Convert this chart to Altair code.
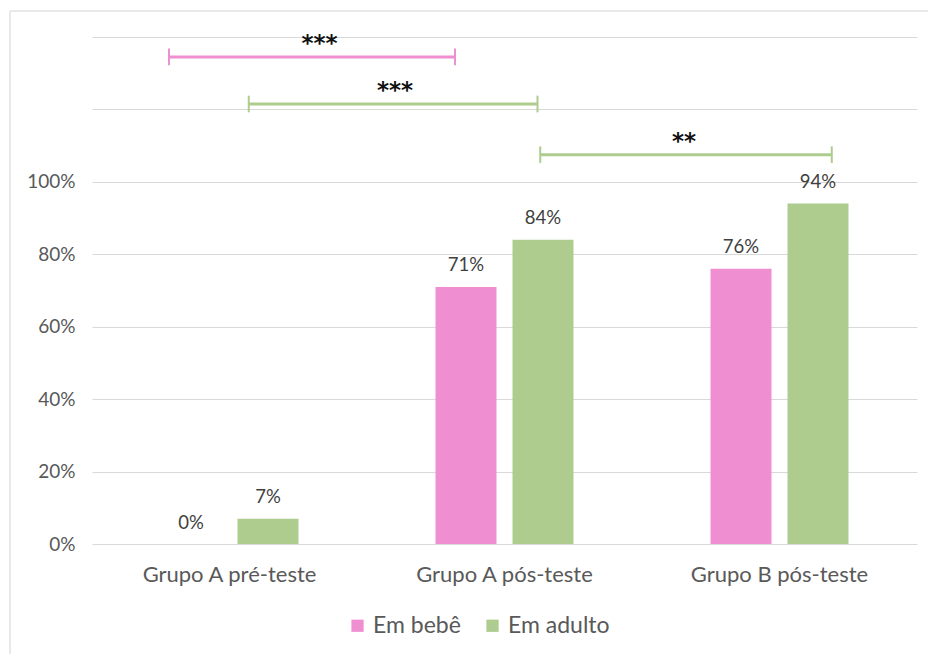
import altair as alt
import pandas as pd

# Groups, series and values (share of correct answers)
groups = ["Grupo A pré-teste", "Grupo A pós-teste", "Grupo B pós-teste"]
series = ["Em bebê", "Em adulto"]
em_bebe = [0.00, 0.71, 0.76]
em_adulto = [0.07, 0.84, 0.94]

# Significance brackets (x in group units: group i spans [i, i+1])
bracket_start = [0.28, 0.57, 1.63]
bracket_end = [1.32, 1.62, 2.69]
bracket_level = [1.345, 1.215, 1.075]
bracket_series = ["Em bebê", "Em adulto", "Em adulto"]
bracket_stars = ["***", "***", "**"]
stars_x = [0.827, 1.102, 2.153]

PINK = "#EF8FD1"
GREEN = "#ADCC8E"
FONT = "Lato"

rows = []
for g, b, a in zip(groups, em_bebe, em_adulto):
    rows.append({"grupo": g, "serie": series[0], "valor": b})
    rows.append({"grupo": g, "serie": series[1], "valor": a})
bars_df = pd.DataFrame(rows)

cap = 0.023
br = pd.DataFrame({
    "x0": bracket_start,
    "x1": bracket_end,
    "xm": stars_x,
    "y": bracket_level,
    "ylo": [v - cap for v in bracket_level],
    "yhi": [v + cap for v in bracket_level],
    "serie": bracket_series,
    "stars": bracket_stars,
})

W, H = 825, 507

y_scale = alt.Scale(domain=[0, 1.4], nice=False)
color_scale = alt.Scale(domain=series, range=[PINK, GREEN])

x_enc = alt.X(
    "grupo:N", sort=groups, title=None,
    scale=alt.Scale(paddingInner=0, paddingOuter=0),
    axis=alt.Axis(labelAngle=0, ticks=False, domain=False, labelPadding=20,
                  labelFontSize=22, labelColor="#595959", labelFont=FONT),
)
xoff_enc = alt.XOffset("serie:N", sort=series,
                       scale=alt.Scale(paddingInner=0.208, paddingOuter=0.89))

bars = alt.Chart(bars_df).mark_bar().encode(
    x=x_enc,
    xOffset=xoff_enc,
    y=alt.Y(
        "valor:Q", scale=y_scale, title=None,
        axis=alt.Axis(
            values=[0, 0.2, 0.4, 0.6, 0.8, 1.0, 1.2, 1.4], format="%",
            labelExpr="datum.value <= 1.0001 ? format(datum.value, '.0%') : ''",
            grid=True, gridColor="#d9d9d9", gridWidth=1, domain=False, ticks=False,
            labelPadding=17, labelFontSize=19, labelColor="#595959", labelFont=FONT,
        ),
    ),
    color=alt.Color(
        "serie:N", sort=series, scale=color_scale, title=None,
        legend=alt.Legend(
            orient="none", legendX=254, legendY=577, direction="horizontal",
            symbolType="square", symbolSize=150, symbolStrokeWidth=0,
            labelFontSize=23, labelColor="#595959", labelFont=FONT,
            labelOffset=4, columnPadding=20, symbolOffset=0,
        ),
    ),
)

labels = alt.Chart(bars_df).mark_text(
    baseline="bottom", dy=-11.5, fontSize=18.5, color="#404040", font=FONT
).encode(
    x=alt.X("grupo:N", sort=groups),
    xOffset=xoff_enc,
    y=alt.Y("valor:Q", scale=y_scale),
    text=alt.Text("valor:Q", format=".0%"),
)

group_layer = alt.layer(bars, labels)

bscale = alt.Scale(domain=[0, 3], nice=False, zero=False)

bracket_line = alt.Chart(br).mark_rule(strokeWidth=3).encode(
    x=alt.X("x0:Q", scale=bscale, axis=None), x2="x1:Q",
    y=alt.Y("y:Q", scale=y_scale),
    color=alt.Color("serie:N", scale=color_scale, legend=None),
)
bracket_left = alt.Chart(br).mark_rule(strokeWidth=2).encode(
    x=alt.X("x0:Q", scale=bscale, axis=None),
    y=alt.Y("ylo:Q", scale=y_scale), y2="yhi:Q",
    color=alt.Color("serie:N", scale=color_scale, legend=None),
)
bracket_right = alt.Chart(br).mark_rule(strokeWidth=2).encode(
    x=alt.X("x1:Q", scale=bscale, axis=None),
    y=alt.Y("ylo:Q", scale=y_scale), y2="yhi:Q",
    color=alt.Color("serie:N", scale=color_scale, legend=None),
)
stars = alt.Chart(br).mark_text(
    baseline="middle", dy=-13, fontSize=23, fontWeight="bold", color="#111111",
    font="DejaVu Sans"
).encode(
    x=alt.X("xm:Q", scale=bscale, axis=None),
    y=alt.Y("y:Q", scale=y_scale),
    text="stars:N",
)
bracket_layer = alt.layer(bracket_line, bracket_left, bracket_right, stars)

# faint outer frame of the figure
frame_top = alt.Chart(br).mark_rule(color="#e6e6e6", strokeWidth=1).encode(
    x=alt.value(-82), x2=alt.value(840), y=alt.value(-26)
)
frame_left = alt.Chart(br).mark_rule(color="#e6e6e6", strokeWidth=1).encode(
    x=alt.value(-82), y=alt.value(-26), y2=alt.value(620)
)

chart = alt.layer(group_layer, bracket_layer, frame_top, frame_left).resolve_scale(
    x="independent", color="shared"
).properties(
    width=W, height=H,
    autosize=alt.AutoSizeParams(type="none"),
    padding={"left": 92, "top": 37, "right": 11, "bottom": 110},
    background="white",
).configure_view(stroke=None)

chart.save("out.html", embed_options={"renderer": "svg", "actions": False})
